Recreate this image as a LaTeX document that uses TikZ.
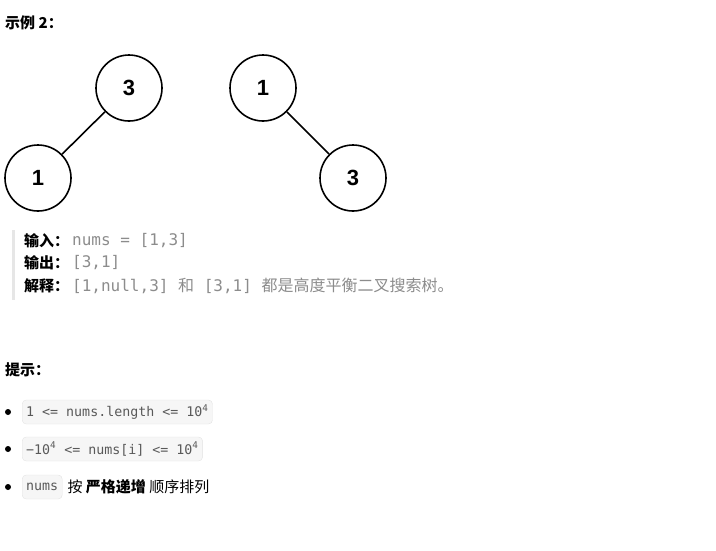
\documentclass[tikz,border=0pt]{standalone}
\usepackage{fontspec}
\setmainfont{Liberation Sans}
\setmonofont{DejaVu Sans Mono}
\newfontfamily\cjk{Noto Sans CJK SC}
\definecolor{codegray}{HTML}{8C8C8C}
\definecolor{codedark}{HTML}{595959}
\definecolor{boxfill}{HTML}{F6F6F6}
\definecolor{boxline}{HTML}{E3E3E3}
\definecolor{quotebar}{HTML}{E6E6E6}
\tikzset{
  treenode/.style={circle, draw, line width=1.6pt, minimum size=66pt, inner sep=0pt,
    font=\bfseries\fontsize{22}{22}\selectfont},
  headline/.style={anchor=west, inner sep=0pt, font=\cjk\bfseries\fontsize{15}{15}\selectfont},
  codetext/.style={anchor=west, inner sep=0pt, text=codegray, font=\ttfamily\fontsize{16}{16}\selectfont},
  codebox/.style={draw=boxline, fill=boxfill, rounded corners=4pt, anchor=west, inner xsep=4pt,
    minimum height=24pt, text=codedark, font=\ttfamily\fontsize{13.3}{13.3}\selectfont},
  dot/.style={circle, fill, inner sep=0pt, minimum size=6pt}
}
\begin{document}
\begin{tikzpicture}[x=1pt, y=-1pt]
\useasboundingbox (0,0) rectangle (716,550);
\node[headline] (title) at (5,23) {示例 2：};
% first tree
\node[treenode] (a3) at (129,88) {3};
\node[treenode] (a1) at (38,178) {1};
\draw[line width=1.6pt] (a3) -- (a1);
% second tree
\node[treenode] (b1) at (263,88) {1};
\node[treenode] (b3) at (353,178) {3};
\draw[line width=1.6pt] (b1) -- (b3);
% example text
\fill[quotebar] (12,230) rectangle (15,300);
\node[headline] (in) at (24,241) {输入：};
\node[codetext] (inval) at (72,241) {nums = [1,3]};
\node[headline] (out) at (24,263) {输出：};
\node[codetext] (outval) at (72,263) {[3,1]};
\node[headline] (why) at (24,286) {解释：};
\node[codetext] (whyval) at (72,286) {[1,null,3] {\cjk 和} [3,1] {\cjk 都是高度平衡二叉搜索树。}};
% hints
\node[headline] (hint) at (5,370) {提示：};
\node[dot] (d1) at (8,412) {};
\node[codebox] (c1) at (22,412) {1 <= nums.length <= 10\textsuperscript{4}};
\node[dot] (d2) at (8,449) {};
\node[codebox] (c2) at (22,449) {−10\textsuperscript{4} <= nums[i] <= 10\textsuperscript{4}};
\node[dot] (d3) at (8,487) {};
\node[codebox] (c3) at (22,487) {nums};
\node[anchor=west, inner sep=0pt, font=\cjk\fontsize{15}{15}\selectfont] (order) at ([xshift=5pt]c3.east)
  {按 \textbf{严格递增} 顺序排列};
\end{tikzpicture}
\end{document}
